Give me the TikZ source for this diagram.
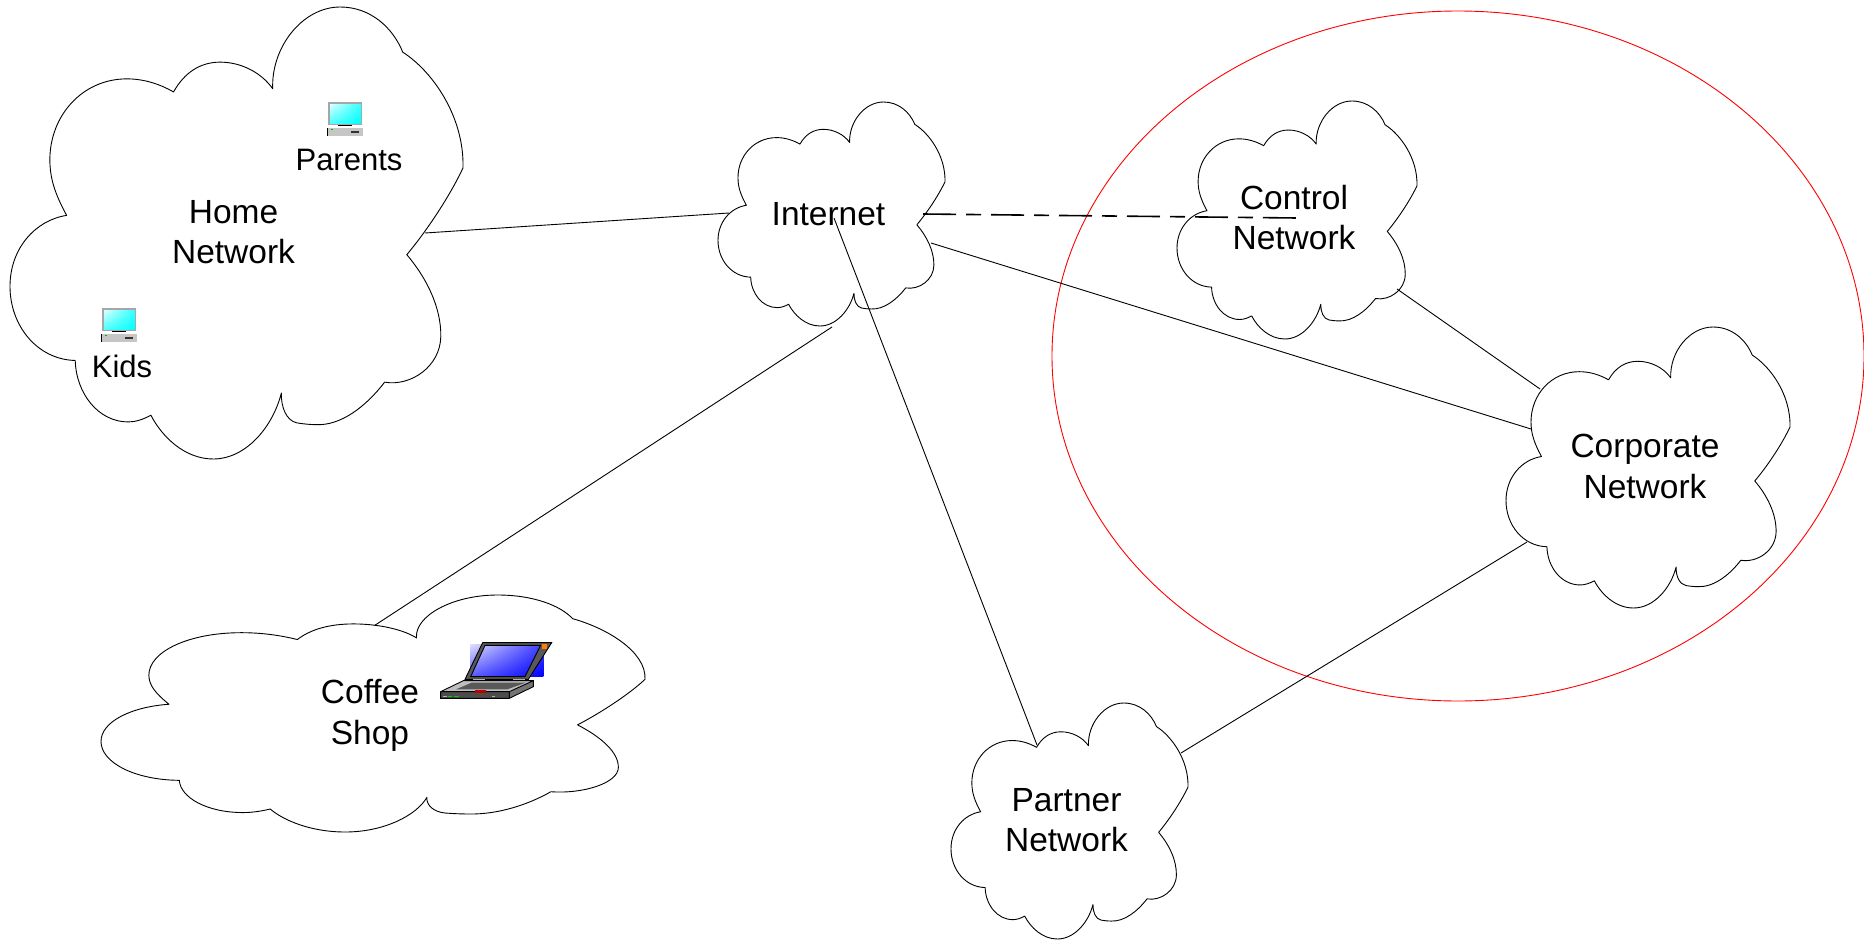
\documentclass[tikz,border=0pt]{standalone}
\usepackage{xcolor}
\usepackage{tikz}
\usepackage{fontspec}
\setmainfont{Liberation Sans}
\usetikzlibrary{positioning}
\usetikzlibrary{shadings}

\tikzset{
  netline/.style={draw=black, line width=0.9pt, line join=round},
  netlink/.style={draw=black, line width=0.9pt},
  vpnlink/.style={draw=black, line width=1.6pt, dash pattern=on 33pt off 10pt on 15pt off 10pt},
  netlabel/.style={inner sep=0pt, align=center, font=\fontsize{33.5}{40.5}\selectfont},
  hostlabel/.style={inner sep=0pt, anchor=base, font=\fontsize{31}{36}\selectfont}
}

% [node options], name, left, top, width, height, text
\newcommand{\netcloud}[7][]{
  \draw[netline, shift={(#3,#4)}, xscale=#5/100, yscale=#6/100]
    (58,18.1) .. controls (57.6,9) and (64.5,0) .. (72.9,0)
    .. controls (79.5,0) and (84.5,4.5) .. (86.7,10)
    .. controls (93,14) and (100.3,24) .. (100,35.6)
    .. controls (97,42) and (92,49.5) .. (87.6,54.8)
    .. controls (92,60) and (95.2,66.5) .. (95.1,72.9)
    .. controls (95,79.5) and (88.5,84) .. (82.7,83)
    .. controls (78.5,88.5) and (73,92.6) .. (67.7,92.4)
    .. controls (66,92.4) and (64.5,92.2) .. (63.3,92)
    .. controls (61,91.5) and (59.8,88.5) .. (59.9,85.4)
    .. controls (58,93) and (52,100) .. (44.9,100)
    .. controls (38.5,100) and (33.5,95) .. (31.1,90.3)
    .. controls (29.5,91.2) and (27.8,91.8) .. (26.1,91.8)
    .. controls (19.5,91.8) and (14.6,85.5) .. (14.4,78.2)
    .. controls (6,78) and (0,70.5) .. (0,61.8)
    .. controls (0,53.5) and (5.5,47.2) .. (12.5,46.1)
    .. controls (10,41.5) and (8.8,38) .. (8.8,33.8)
    .. controls (8.8,24) and (16,15.9) .. (25.8,15.9)
    .. controls (29.5,15.9) and (33,17) .. (36.1,18.8)
    .. controls (38.5,14.5) and (42,12.2) .. (46.4,12.2)
    .. controls (51,12.2) and (55.5,14.5) .. (58,18.1) -- cycle;
  \node[netlabel, minimum width=#5pt, minimum height=#6pt, #1] (#2) at (#3+#5/2-3,#4+#6/2) {#7};
}

% left, top
\newcommand{\deskicon}[2]{
  \begin{scope}[shift={(#1,#2)}]
    \fill[gray!70] (1,0) rectangle (35,23);
    \shade[upper left=cyan!15, lower left=cyan!70, upper right=cyan!80, lower right=cyan] (3,2.5) rectangle (34,21.5);
    \fill[black] (11,22.5) rectangle (25,24);
    \fill[gray!45] (0,25.5) rectangle (36,34);
    \fill[black] (0,25.5) rectangle (1,34);
    \fill[green!70!black] (3.5,26.5) rectangle (6,28);
    \fill[black!80] (24,29) rectangle (32,31);
  \end{scope}
}

\begin{document}
\begin{tikzpicture}[x=1pt, y=-1pt]
  \useasboundingbox (0,0) rectangle (1864,942);

  \draw[red, line width=0.9pt] (1458,356) ellipse [x radius=406, y radius=345];

  \netcloud[yshift=1pt]{home}{10}{7}{453}{452}{Home\\Network}
  \netcloud[yshift=-2pt]{coffee}{101}{595}{544}{237}{Coffee\\Shop}
  \netcloud{inet}{718}{102}{227}{224}{Internet}
  \netcloud[yshift=2.5pt]{control}{1177}{101}{240}{238}{Control\\Network}
  \netcloud[yshift=1pt]{corp}{1506}{327}{284}{281}{Corporate\\Network}
  \netcloud[yshift=1pt]{partner}{951}{703}{237}{236}{Partner\\Network}

  \deskicon{327}{102}
  \node[hostlabel] (parents) at (349,170) {Parents};
  \deskicon{101}{308}
  \node[hostlabel] (kids) at (122,377.5) {Kids};

  % laptop, in units of a third of a pixel
  \begin{scope}[shift={(420,620)}, scale=1/3]
    \shade[upper left=blue!12, lower left=blue!65, upper right=blue!75, lower right=blue] (150,72) rectangle (370,170);
    \fill[gray!70!black, even odd rule] (188,68) -- (395,68) -- (325,178) -- (135,178) -- cycle
      (195,76) -- (362,76) -- (315,170) -- (152,170) -- cycle;
    \draw[black, line width=0.9pt] (188,68) -- (395,68) -- (325,178) -- (135,178) -- cycle;
    \draw[black, line width=0.9pt] (195,76) -- (362,76) -- (315,170) -- (152,170) -- cycle;
    \fill[orange] (366,71) rectangle (382,88);
    \fill[gray!60] (158,178) rectangle (195,182);
    \fill[gray!60] (280,178) rectangle (315,182);
    \fill[gray!50] (130,182) -- (340,182) -- (268,215) -- (62,215) -- cycle;
    \fill[gray!70!black] (155,188) -- (318,188) -- (262,208) -- (108,208) -- cycle;
    \fill[black!70] (62,215) rectangle (268,235);
    \fill[black!55] (268,215) -- (340,182) -- (340,200) -- (268,235) -- cycle;
    \draw[black, line width=0.9pt] (130,182) -- (340,182) -- (340,200) -- (268,235) -- (62,235) -- (62,215) -- cycle
      (62,215) -- (268,215) -- (340,182) (268,215) -- (268,235);
    \fill[red!75!black] (165,211) rectangle (198,218);
    \fill[green!80!black] (85,228) rectangle (97,232);
    \fill[green!80!black] (102,228) rectangle (116,232);
    \fill[gray!60] (68,228) rectangle (80,232);
    \fill[gray!60] (215,228) rectangle (224,232);
  \end{scope}

  \draw[netlink] ([shift={(191.5,1)}]home.center) -- ([shift={(-99.5,-1)}]inet.center);
  \draw[netlink] ([shift={(3.5,113)}]inet.center) -- ([shift={(4.5,-90)}]coffee.center);
  \draw[netlink] ([shift={(5.5,4)}]inet.center) -- ([shift={(-29.5,-75)}]partner.center);
  \draw[netlink] ([shift={(102.5,29)}]inet.center) -- ([shift={(-114,-37.5)}]corp.center);
  \draw[vpnlink] ([shift={(94.5,0)}]inet.center) -- ([shift={(3,0.5)}]control.center);
  \draw[netlink] ([shift={(103,71.5)}]control.center) -- ([shift={(-105,-77.5)}]corp.center);
  \draw[netlink] ([shift={(-118,75.5)}]corp.center) -- ([shift={(114.5,-67)}]partner.center);
\end{tikzpicture}
\end{document}
